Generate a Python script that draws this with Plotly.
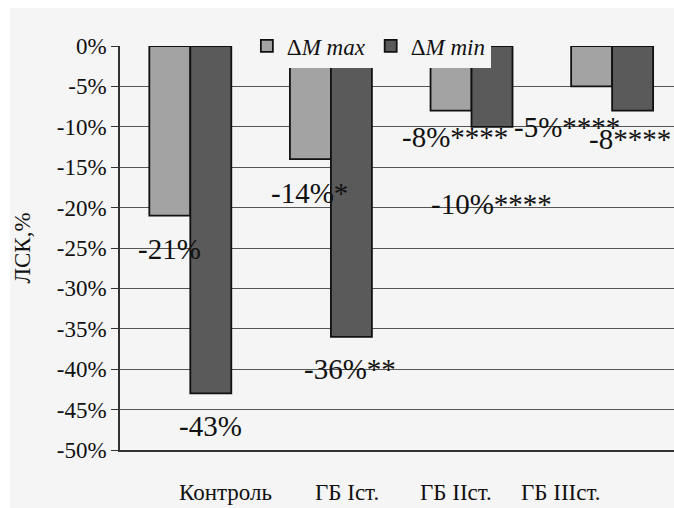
import plotly.graph_objects as go

# Categories and the two series (% change of ЛСК)
categories = ["Контроль", "ГБ Іст.", "ГБ ІІст.", "ГБ ІІІст."]
delta_max = [-21, -14, -8, -5]
delta_min = [-43, -36, -10, -8]

# Significance marks appended to the value labels
max_suffix = ["%", "%*", "%****", "%****"]
min_suffix = ["%", "%**", "%****", "****"]

# Value axis ticks
tick_vals = [0, -5, -10, -15, -20, -25, -30, -35, -40, -45, -50]
tick_text = ["0%", "-5%", "-10%", "-15%", "-20%", "-25%", "-30%",
             "-35%", "-40%", "-45%", "-50%"]

FONT = "'Times New Roman', 'Liberation Serif', 'DejaVu Serif', serif"
BG = "#f5f5f5"
INK = "#111111"

fig = go.Figure()
fig.add_trace(go.Bar(
    x=categories, y=delta_max, name="Δ<i>M max</i>",
    marker=dict(color="#a3a3a3", line=dict(color=INK, width=1.8)),
))
fig.add_trace(go.Bar(
    x=categories, y=delta_min, name="Δ<i>M min</i>",
    marker=dict(color="#5a5a5a", line=dict(color=INK, width=1.8)),
))

# Value labels, offset from the end of each bar (pixels)
max_offsets = [(-21, -33), (-21, -34), (-17, -26), (-45, -41)]
min_offsets = [(20, -33), (19, -32), (20, -77), (18, -28)]

annotations = []
for cat, v, suf, (dx, dy) in zip(categories, delta_max, max_suffix, max_offsets):
    annotations.append(dict(
        x=cat, y=v, xref="x", yref="y", text=f"{v}{suf}", showarrow=False,
        xanchor="center", yanchor="middle", xshift=dx, yshift=dy,
        font=dict(family=FONT, size=29, color=INK),
    ))
for cat, v, suf, (dx, dy) in zip(categories, delta_min, min_suffix, min_offsets):
    annotations.append(dict(
        x=cat, y=v, xref="x", yref="y", text=f"{v}{suf}", showarrow=False,
        xanchor="center", yanchor="middle", xshift=dx, yshift=dy,
        font=dict(family=FONT, size=29, color=INK),
    ))

# Category names under the axis
cat_shifts = [35, 16, -16, -51]
for cat, dx in zip(categories, cat_shifts):
    annotations.append(dict(
        x=cat, y=-0.104, xref="x", yref="paper", text=cat, showarrow=False,
        xanchor="center", yanchor="middle", xshift=dx,
        font=dict(family=FONT, size=23, color=INK),
    ))

fig.update_layout(
    width=674, height=508,
    margin=dict(l=120, r=0, t=46, b=58),
    paper_bgcolor="white", plot_bgcolor=BG,
    barmode="group", bargap=0.417, bargroupgap=0,
    font=dict(family=FONT, size=23, color=INK),
    showlegend=True,
    legend=dict(
        orientation="h", x=0.229, y=1.0, xanchor="left", yanchor="middle",
        bgcolor=BG, borderwidth=0, itemwidth=30,
        font=dict(family=FONT, size=23, color=INK),
        traceorder="normal",
    ),
    annotations=annotations,
    shapes=[dict(
        type="rect", xref="paper", yref="paper",
        x0=-0.1986, x1=1.0, y0=-0.1436, y1=1.094,
        fillcolor=BG, line=dict(width=0), layer="below",
    )],
)

fig.update_xaxes(
    type="category", range=[-0.5, 3.44], showticklabels=False,
    showline=True, linecolor="#333333", linewidth=1.5, ticks="",
    showgrid=False,
)
fig.update_yaxes(
    range=[-50, 0], tickvals=tick_vals, ticktext=tick_text,
    showgrid=True, gridcolor="#555555", gridwidth=1, zeroline=False,
    showline=True, linecolor="#333333", linewidth=1.5,
    ticks="outside", ticklen=7, tickcolor="#333333",
    tickfont=dict(family=FONT, size=23, color=INK),
    title=dict(text="ЛСК,%", font=dict(family=FONT, size=23, color=INK),
               standoff=20),
)

fig.write_html("out.html")
